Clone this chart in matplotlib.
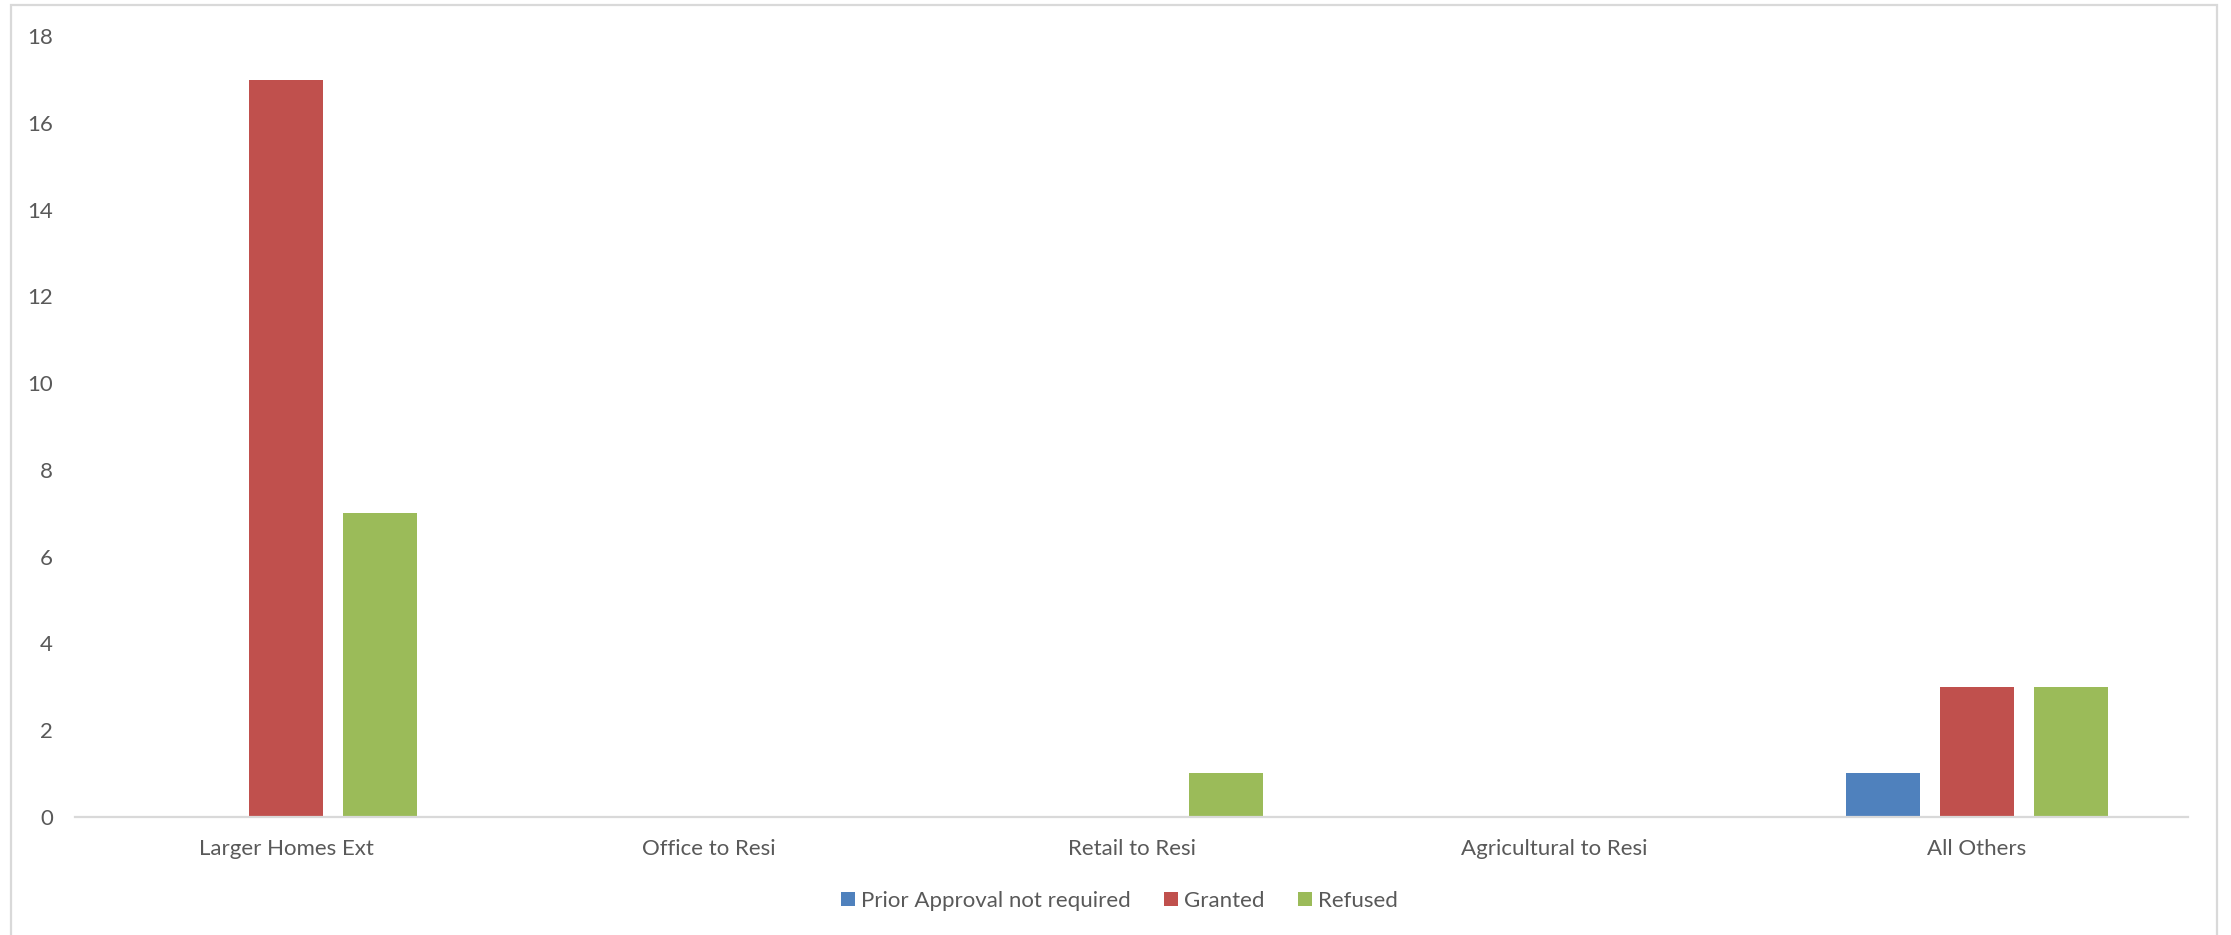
import matplotlib
matplotlib.use("Agg")
import matplotlib.pyplot as plt
import numpy as np
from matplotlib.patches import Rectangle

categories = ["Larger Homes Ext", "Office to Resi", "Retail to Resi",
              "Agricultural to Resi", "All Others"]
not_required = [0, 0, 0, 0, 1]
granted = [17, 0, 0, 0, 3]
refused = [7, 0, 1, 0, 3]
series_names = ["Prior Approval not required", "Granted", "Refused"]
series_colors = ["#4F81BD", "#C0504D", "#9BBB59"]
y_ticks = [0, 2, 4, 6, 8, 10, 12, 14, 16, 18]

plt.rcParams["font.family"] = ["Lato", "DejaVu Sans"]
text_color = "#595959"
font_size = 16

W, H = 2231, 935
fig = plt.figure(figsize=(W / 100, H / 100), dpi=100)
fig.patch.set_facecolor("white")

# outer chart-area frame
fig.add_artist(Rectangle((11 / W, -0.02), (2217 - 11) / W, (930 + 0.02 * H) / H,
                         transform=fig.transFigure, fill=False,
                         edgecolor="#D9D9D9", linewidth=1.6))

ax = fig.add_axes([75 / W, (H - 816.7) / H, (2188 - 75) / W, (816.7 - 36.4) / H])

x = np.arange(len(categories))
step = 0.2225
width = 0.175
for i, (vals, name, col) in enumerate(zip([not_required, granted, refused],
                                          series_names, series_colors)):
    ax.bar(x + (i - 1) * step, vals, width=width, color=col, linewidth=0,
           label=name, zorder=3)

ax.set_xlim(-0.5, len(categories) - 0.5)
ax.set_ylim(0, 18)
ax.set_yticks(y_ticks)
ax.set_xticks(x)
ax.set_xticklabels(categories)

for side in ["top", "right", "left"]:
    ax.spines[side].set_visible(False)
ax.spines["bottom"].set_color("#D9D9D9")
ax.spines["bottom"].set_linewidth(1.6)
ax.spines["bottom"].set_zorder(4)

ax.tick_params(axis="y", length=0, pad=16, labelsize=font_size, labelcolor=text_color)
ax.tick_params(axis="x", length=0, pad=16, labelsize=font_size, labelcolor=text_color)

handles = [Rectangle((0, 0), 1, 1, facecolor=c, edgecolor="none") for c in series_colors]
fig.legend(handles, series_names, loc="center", bbox_to_anchor=(1119 / W, (H - 901) / H),
           ncol=3, frameon=False, fontsize=font_size, labelcolor=text_color,
           handlelength=0.63, handleheight=0.63, handletextpad=0.27,
           columnspacing=1.5)

fig.savefig("out.png", dpi=100, facecolor="white")
